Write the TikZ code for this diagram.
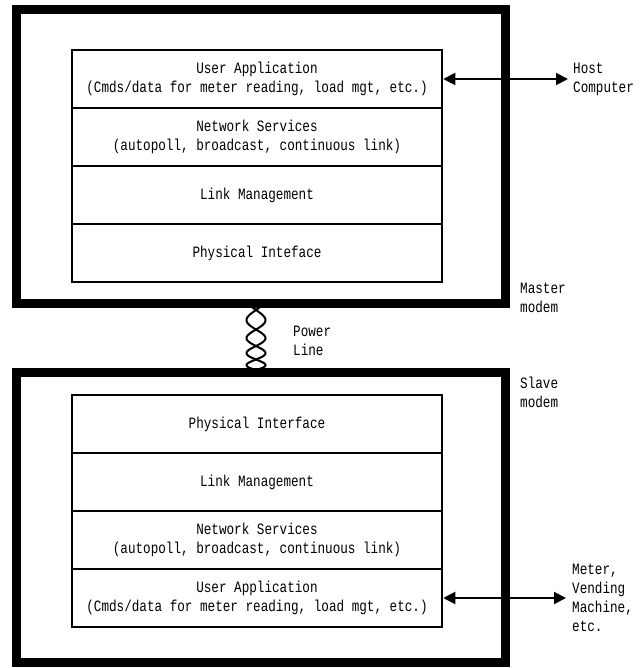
\documentclass[tikz,border=0pt]{standalone}
\usepackage{fontspec}
\newfontfamily\plotfont[FakeStretch=0.8]{Liberation Mono}
\usetikzlibrary{arrows.meta}

\begin{document}
\begin{tikzpicture}[x=1pt,y=-1pt,
    layer/.style={draw,line width=2.5pt,minimum width=370pt,minimum height=58pt,
        inner sep=0pt,align=center,font=\plotfont\fontsize{15.8}{19}\selectfont},
    modembox/.style={line width=9pt},
    sidetext/.style={anchor=west,align=left,inner sep=0pt,
        font=\plotfont\fontsize{15.8}{19}\selectfont},
    link/.style={line width=2pt,{Triangle[length=12pt,width=12pt]}-{Triangle[length=12pt,width=12pt]}}]
    \useasboundingbox (0,0) rectangle (640,668);
    % twisted power line
    \draw[line width=2pt] plot[domain=-30:750,samples=120]
        ({256+9.5*sin(\x)},{310+60*(0.6*\x/720+0.4*(1-(1-\x/720)*(1-\x/720)))});
    \draw[line width=2pt] plot[domain=-30:750,samples=120]
        ({256-9.5*sin(\x)},{310+60*(0.6*\x/720+0.4*(1-(1-\x/720)*(1-\x/720)))});
    \node[sidetext] (power) at (293,341) {Power\\Line};
    % master modem
    \draw[modembox] (16.5,9.5) rectangle (505.5,303.5);
    \node[layer] (mUser) at (257,79) {User Application\\(Cmds/data for meter reading, load mgt, etc.)};
    \node[layer] (mNet) at (257,137) {Network Services\\(autopoll, broadcast, continuous link)};
    \node[layer] (mLink) at (257,195) {Link Management};
    \node[layer] (mPhys) at (257,253) {Physical Inteface};
    \node[sidetext] (master) at (520,298) {Master\\modem};
    \coordinate (host) at (568,79);
    \draw[link] (mUser.east) -- (host);
    \node[sidetext] (hostText) at (573,79) {Host\\Computer};
    % slave modem
    \draw[modembox] (16.5,372.5) rectangle (505.5,662.5);
    \node[layer] (sPhys) at (257,424) {Physical Interface};
    \node[layer] (sLink) at (257,482) {Link Management};
    \node[layer] (sNet) at (257,540) {Network Services\\(autopoll, broadcast, continuous link)};
    \node[layer] (sUser) at (257,598) {User Application\\(Cmds/data for meter reading, load mgt, etc.)};
    \node[sidetext] (slave) at (520,392) {Slave\\modem};
    \coordinate (meter) at (566,598);
    \draw[link] (sUser.east) -- (meter);
    \node[sidetext] (meterText) at (572,598) {Meter,\\Vending\\Machine,\\etc.};
\end{tikzpicture}
\end{document}
